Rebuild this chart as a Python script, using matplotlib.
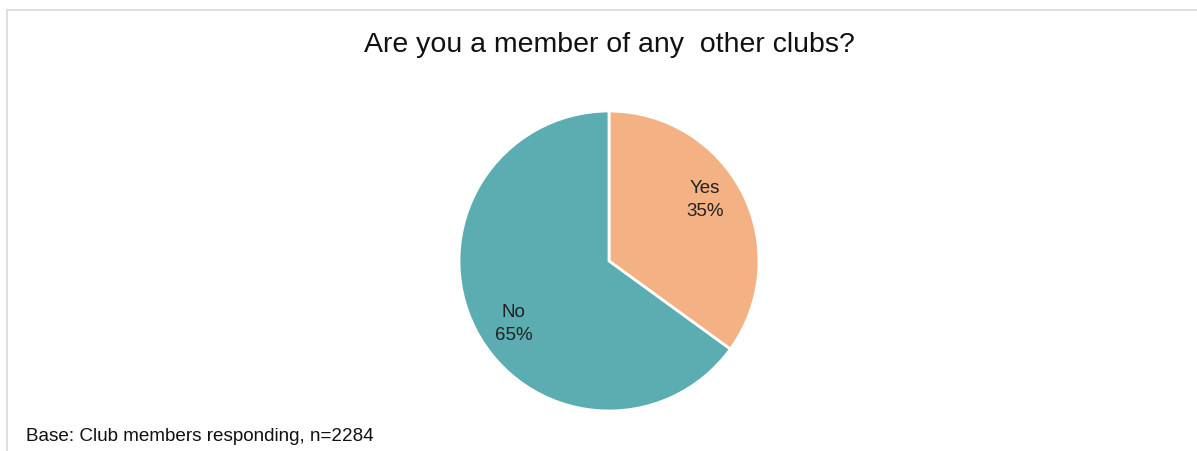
import numpy as np
import matplotlib.pyplot as plt
from matplotlib.patches import Rectangle

plt.rcParams['font.family'] = ['Liberation Sans', 'DejaVu Sans']

labels = ['Yes', 'No']
shares = [35, 65]
colors = ['#F4B183', '#5BADB1']

W, H = 1197, 452
fig = plt.figure(figsize=(W / 100, H / 100), dpi=100)

# light frame around the chart area
fig.add_artist(Rectangle((7 / W, -0.1), 1.2, 1 - 11 / H + 0.1, transform=fig.transFigure,
                         fill=False, edgecolor='#D9D9D9', linewidth=1.2))

cx, cy, r = 609, 262, 150
ax = fig.add_axes([(cx - r) / W, 1 - (cy + r) / H, 2 * r / W, 2 * r / H])

names = iter(labels)
wedges, _, autotexts = ax.pie(
    shares, colors=colors, startangle=90, counterclock=False,
    autopct=lambda p: f'{next(names)}\n{p:.0f}%', pctdistance=0.76,
    wedgeprops=dict(edgecolor='white', linewidth=2),
    textprops=dict(fontsize=13.5, color='#222222', linespacing=1.45))

# nudge the data labels a little counter-clockwise, as the source chart places them
for w, t in zip(wedges, autotexts):
    ang = np.deg2rad((w.theta1 + w.theta2) / 2 + 6)
    t.set_position((0.76 * np.cos(ang), 0.76 * np.sin(ang)))

ax.set_xlim(-1, 1)
ax.set_ylim(-1, 1)
ax.set_aspect('equal')
ax.axis('off')

fig.text(cx / W, 1 - 45 / H, 'Are you a member of any  other clubs?',
         ha='center', va='center', fontsize=20.5, color='#111111')
fig.text(26 / W, 1 - 437 / H, 'Base: Club members responding, n=2284',
         ha='left', va='center', fontsize=13.6, color='#111111')

fig.savefig('out.png', dpi=100)
